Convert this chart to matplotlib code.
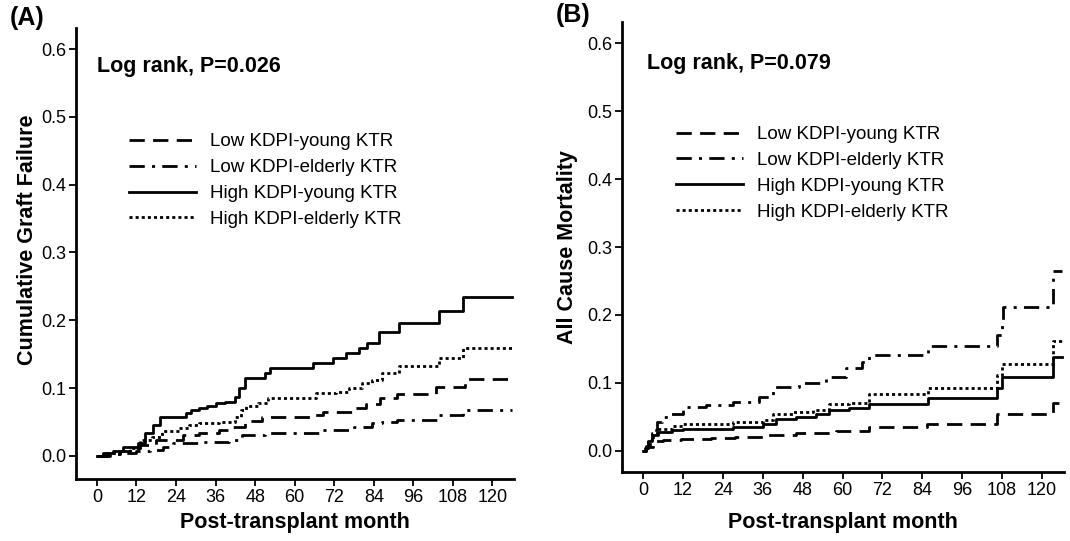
import matplotlib
matplotlib.use("Agg")
import matplotlib.pyplot as plt

plt.rcParams['font.family'] = ['Liberation Sans', 'DejaVu Sans']

# ---------------- Data ----------------
labels = ["Low KDPI-young KTR", "Low KDPI-elderly KTR",
          "High KDPI-young KTR", "High KDPI-elderly KTR"]
x_ticks = [0, 12, 24, 36, 48, 60, 72, 84, 96, 108, 120]
y_ticks = [0.0, 0.1, 0.2, 0.3, 0.4, 0.5, 0.6]
end_month = 126

# Panel A: cumulative graft failure
a_low_young_t = [0, 3, 7, 10, 13, 18, 26, 31, 37, 41, 44.8, 50, 64.5, 68.5, 77.5, 81.5, 86, 91, 103, 111.8]
a_low_young_v = [0, 0.003, 0.007, 0.011, 0.016, 0.024, 0.031, 0.034, 0.038, 0.043, 0.052, 0.058, 0.060, 0.065, 0.070, 0.077, 0.085, 0.091, 0.102, 0.113]

a_low_old_t = [0, 4, 8, 12, 16, 20, 23, 31, 40, 44, 51, 68, 78, 83.5, 86.5, 91, 103.7, 111]
a_low_old_v = [0, 0.003, 0.005, 0.007, 0.009, 0.013, 0.019, 0.021, 0.024, 0.031, 0.034, 0.038, 0.043, 0.048, 0.050, 0.053, 0.060, 0.068]

a_high_young_t = [0, 2, 5, 8, 12.4, 14.6, 17, 19, 27, 28.5, 31, 33.5, 36, 39, 42, 43, 44.8, 51, 52.5, 65.5, 71.5, 75.5, 79.5, 82, 85.6, 91.6, 103.7, 111.2]
a_high_young_v = [0, 0.004, 0.008, 0.013, 0.019, 0.034, 0.046, 0.058, 0.063, 0.068, 0.071, 0.074, 0.078, 0.080, 0.087, 0.100, 0.115, 0.122, 0.130, 0.137, 0.144, 0.152, 0.159, 0.167, 0.183, 0.196, 0.213, 0.234]

a_high_old_t = [0, 3, 7, 10, 13, 16.6, 19.6, 25, 28, 31, 37, 42, 43.8, 45.3, 49, 52, 66.5, 72.5, 76.5, 80.5, 83.5, 86.5, 91.6, 103.7, 111.2]
a_high_old_v = [0, 0.004, 0.008, 0.012, 0.024, 0.028, 0.037, 0.041, 0.045, 0.048, 0.050, 0.058, 0.068, 0.073, 0.078, 0.085, 0.093, 0.095, 0.100, 0.108, 0.112, 0.122, 0.132, 0.144, 0.159]

# Panel B: all cause mortality
b_low_young_t = [0, 1, 3, 6, 11.5, 20.6, 27.6, 36, 46, 58, 68, 85.5, 106.4, 123.4]
b_low_young_v = [0, 0.006, 0.014, 0.016, 0.018, 0.019, 0.020, 0.023, 0.026, 0.030, 0.035, 0.040, 0.055, 0.070]

b_low_old_t = [0, 1, 2, 3.1, 4.1, 5.6, 8.1, 12.1, 19, 27, 35, 39, 47, 55, 61, 66, 68, 85.8, 106.4, 107.9, 108.4, 123.4]
b_low_old_v = [0, 0.008, 0.018, 0.031, 0.043, 0.050, 0.055, 0.064, 0.068, 0.072, 0.080, 0.094, 0.100, 0.109, 0.122, 0.131, 0.141, 0.154, 0.171, 0.185, 0.212, 0.264]

b_high_young_t = [0, 0.6, 1.6, 2.6, 4.6, 8.6, 12, 27, 36, 40, 46, 52, 56, 62, 68, 85.7, 106.4, 107.9, 123.4]
b_high_young_v = [0, 0.004, 0.014, 0.024, 0.028, 0.031, 0.033, 0.035, 0.040, 0.047, 0.050, 0.054, 0.060, 0.063, 0.069, 0.078, 0.093, 0.109, 0.138]

b_high_old_t = [0, 0.6, 1.6, 2.6, 4.6, 8.6, 12, 27, 36, 39, 45, 51, 56, 62, 68, 85.7, 106.4, 107.9, 123.4]
b_high_old_v = [0, 0.005, 0.016, 0.027, 0.032, 0.036, 0.039, 0.043, 0.045, 0.054, 0.057, 0.060, 0.069, 0.071, 0.084, 0.092, 0.112, 0.128, 0.162]

# ---------------- Styles ----------------
LW = 2.0
styles = [
    dict(dashes=(5.5, 3.0)),                 # dashed
    dict(dashes=(5.5, 2.6, 1.1, 2.6)),       # dash-dot
    dict(linestyle='-'),                     # solid
    dict(dashes=(1.1, 1.1)),                 # dotted
]

fig = plt.figure(figsize=(10.7, 5.41), dpi=100)
axA = fig.add_axes([0.0710, 0.1146, 0.4093, 0.8336])
axB = fig.add_axes([0.5813, 0.1275, 0.4131, 0.8318])


def km(ax, t, v, style):
    tt = list(t) + [end_month]
    vv = list(v) + [v[-1]]
    line, = ax.step(tt, vv, where='post', color='black', lw=LW, **style)
    return line


def setup(ax, xlim, ylim, ylabel, ylab_xy, xlab_y, ptext, ptext_xy):
    ax.set_xlim(*xlim)
    ax.set_ylim(*ylim)
    for s in ['top', 'right']:
        ax.spines[s].set_visible(False)
    for s in ['left', 'bottom']:
        ax.spines[s].set_linewidth(2.0)
    ax.set_xticks(x_ticks)
    ax.set_yticks(y_ticks)
    ax.set_yticklabels([f"{v:.1f}" for v in y_ticks])
    ax.tick_params(axis='both', direction='out', length=5, width=1.3,
                   labelsize=13, pad=2)
    ax.set_xlabel("Post-transplant month", fontsize=15.5, fontweight='bold')
    ax.xaxis.set_label_coords(0.5, xlab_y)
    ax.set_ylabel(ylabel, fontsize=15.5, fontweight='bold')
    ax.yaxis.set_label_coords(*ylab_xy)
    ax.text(ptext_xy[0], ptext_xy[1], ptext, fontsize=15.5, fontweight='bold',
            va='center', ha='left')


setup(axA, (-6.35, 126.5), (-0.034, 0.631), "Cumulative Graft Failure",
      (-0.086, 0.53), -0.073, "Log rank, P=0.026", (0.0, 0.574))
setup(axB, (-6.3, 126.6), (-0.031, 0.631), "All Cause Mortality",
      (-0.099, 0.50), -0.089, "Log rank, P=0.079", (1.2, 0.570))

hA = [km(axA, a_low_young_t, a_low_young_v, styles[0]),
      km(axA, a_low_old_t, a_low_old_v, styles[1]),
      km(axA, a_high_young_t, a_high_young_v, styles[2]),
      km(axA, a_high_old_t, a_high_old_v, styles[3])]
hB = [km(axB, b_low_young_t, b_low_young_v, styles[0]),
      km(axB, b_low_old_t, b_low_old_v, styles[1]),
      km(axB, b_high_young_t, b_high_young_v, styles[2]),
      km(axB, b_high_old_t, b_high_old_v, styles[3])]

for ax, h, anchor in [(axA, hA, (0.12, 0.767)), (axB, hB, (0.122, 0.769))]:
    ax.legend(h, labels, loc='upper left', bbox_to_anchor=anchor,
              frameon=False, fontsize=13.5, handlelength=3.6, handletextpad=0.72,
              labelspacing=0.47, borderpad=0, borderaxespad=0)

fig.text(10 / 1070, 1 - 18 / 541, "(A)", fontsize=18, fontweight='bold',
         ha='left', va='center')
fig.text(556 / 1070, 1 - 15 / 541, "(B)", fontsize=18, fontweight='bold',
         ha='left', va='center')

fig.savefig("out.png", dpi=100)
